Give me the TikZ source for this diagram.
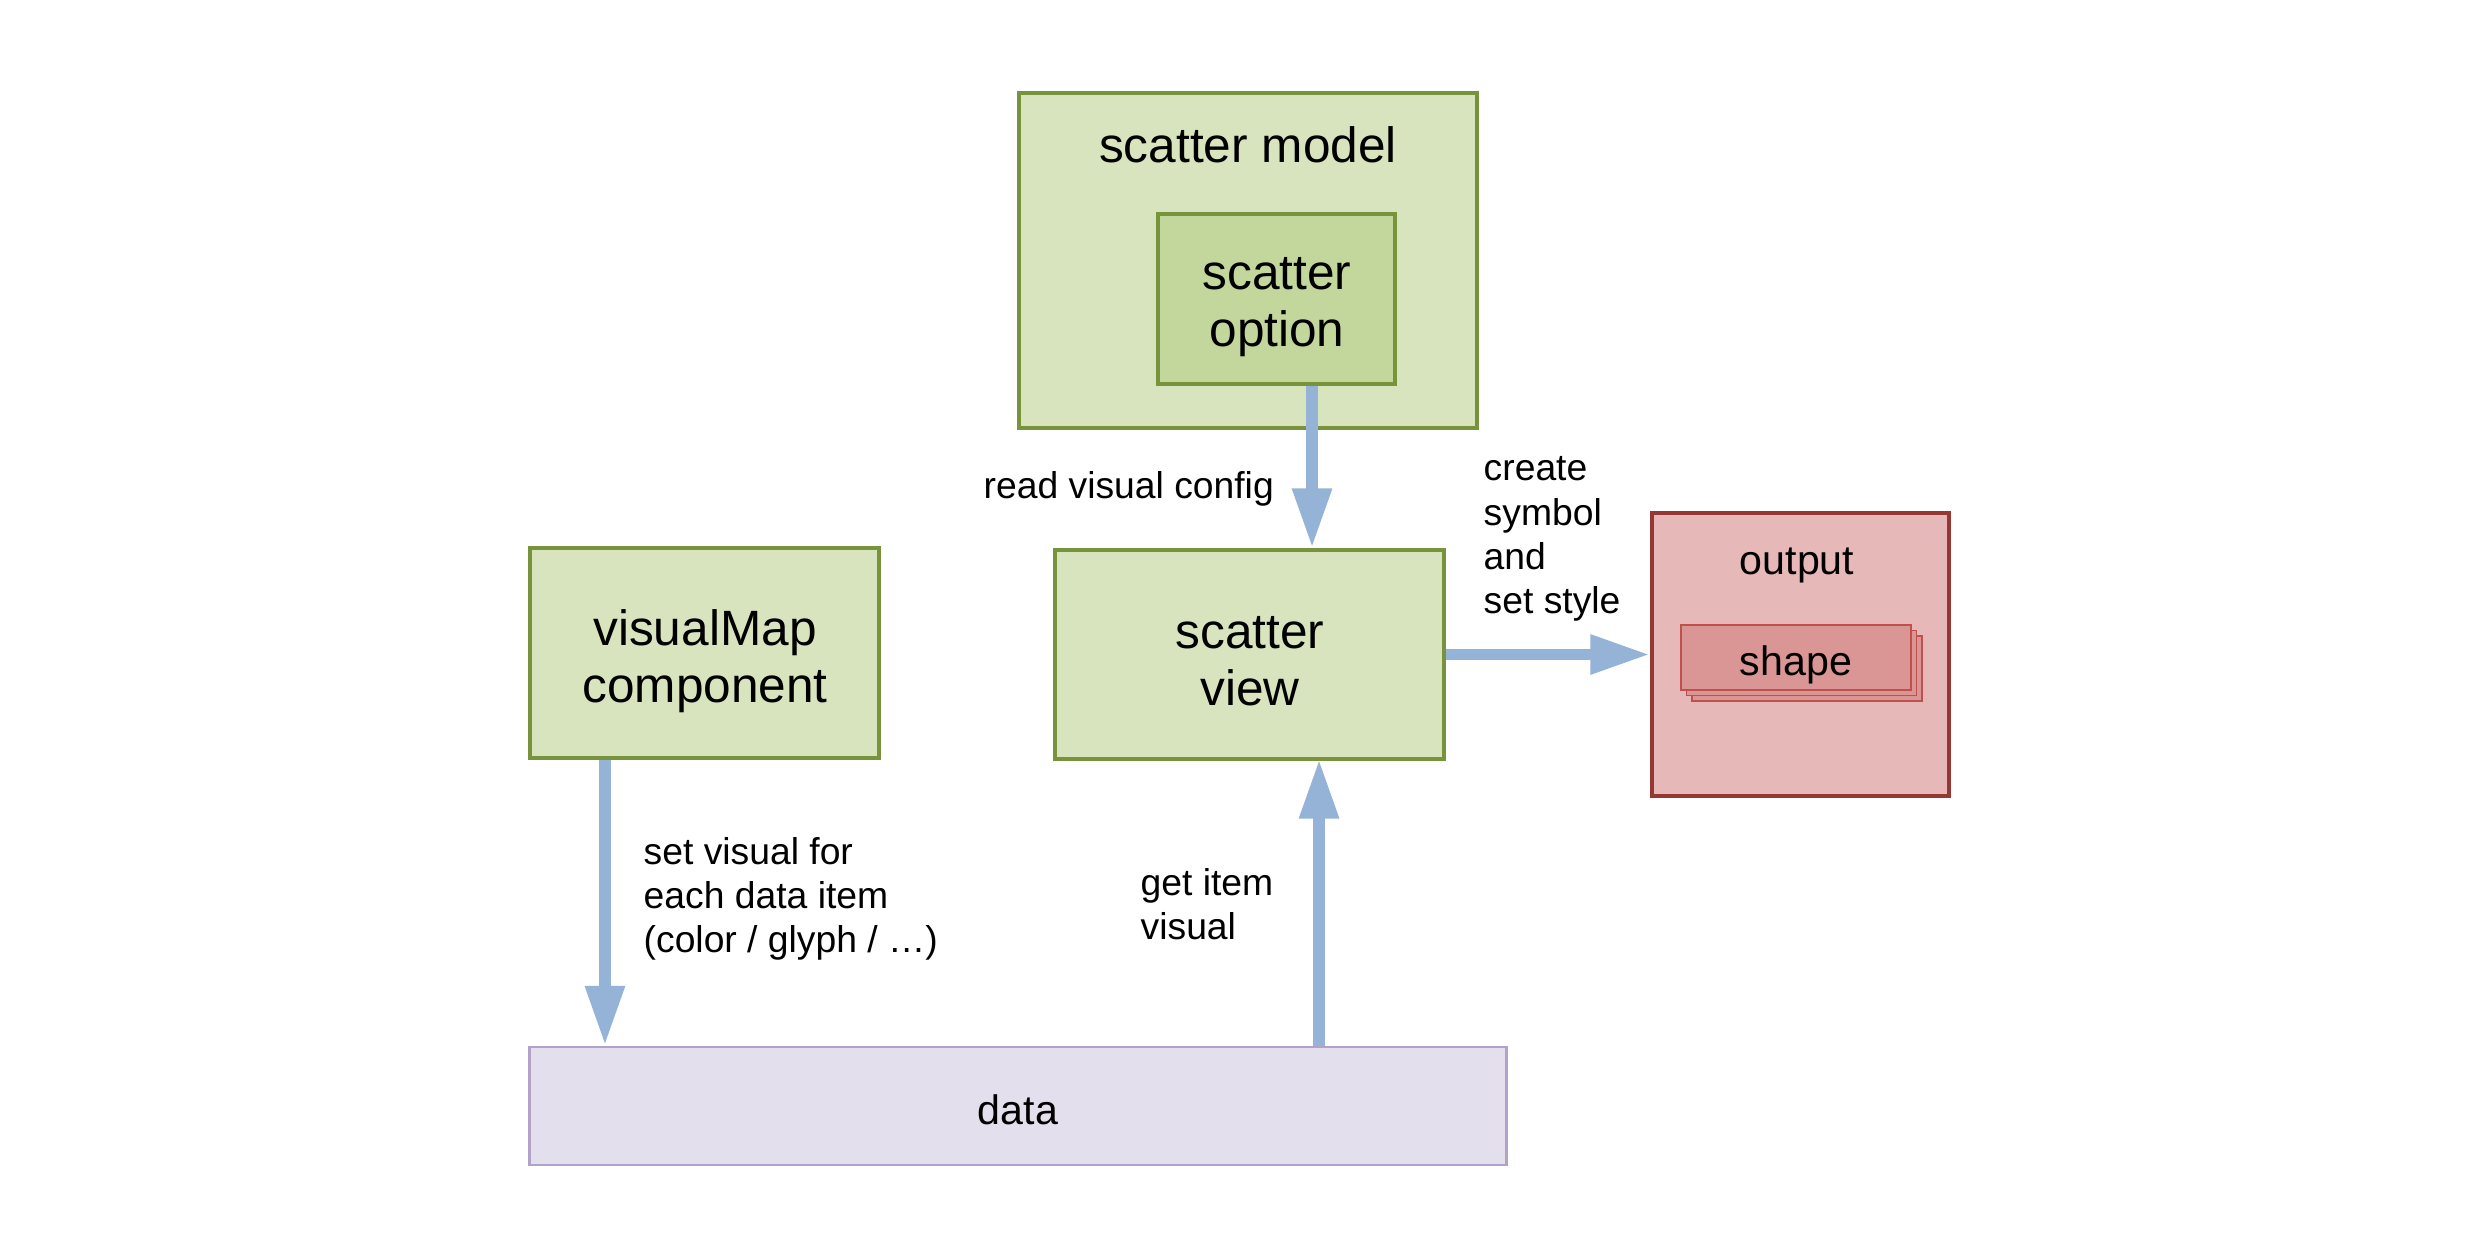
\documentclass[tikz,border=0pt]{standalone}
\usepackage{fontspec}
\setmainfont{Liberation Sans}
\usetikzlibrary{arrows.meta}
\definecolor{gfill}{HTML}{D7E4BD}
\definecolor{gdraw}{HTML}{77933C}
\definecolor{gfill2}{HTML}{C3D69B}
\definecolor{rfill}{HTML}{E6B9B8}
\definecolor{rdraw}{HTML}{953735}
\definecolor{sfill}{HTML}{D99694}
\definecolor{sdraw}{HTML}{C0504D}
\definecolor{pfill}{HTML}{E4DFEC}
\definecolor{pdraw}{HTML}{B3A2C7}
\definecolor{arrc}{HTML}{95B3D7}
\tikzset{
  box/.style={rectangle, inner sep=0pt, align=center},
  greenbox/.style={box, fill=gfill, draw=gdraw, line width=1pt},
  bigtxt/.style={font=\fontsize{14.1}{16.2}\selectfont, inner sep=0pt, align=center},
  midtxt/.style={font=\fontsize{11.7}{13.5}\selectfont, inner sep=0pt},
  smalltxt/.style={font=\fontsize{10.6}{12.6}\selectfont, align=left, inner sep=0pt},
  arr/.style={draw=arrc, line width=3.4pt, -{Triangle[width=10.5pt,length=17pt]}},
  shapebox/.style={box, fill=sfill, draw=sdraw, line width=0.5pt, minimum width=2.30cm, minimum height=0.65cm}
}
\begin{document}
\begin{tikzpicture}[x=0.01cm,y=-0.01cm]
\useasboundingbox[fill=white] (0,0) rectangle (2473,1251);
% scatter model
\node[greenbox, minimum width=4.58cm, minimum height=3.35cm] (model) at (1248,260.5) {};
\node[bigtxt] (modeltxt) at (1248,145) {scatter model};
\node[box, fill=gfill2, draw=gdraw, line width=1pt, minimum width=2.37cm, minimum height=1.70cm] (opt) at (1276.5,299) {};
\node[bigtxt] (opttxt) at (1277,307) {scatter\\option};
% scatter view
\node[greenbox, minimum width=3.89cm, minimum height=2.09cm] (view) at (1249.5,654.5) {};
\node[bigtxt] (viewtxt) at (1250,661) {scatter\\view};
% visualMap
\node[greenbox, minimum width=3.49cm, minimum height=2.10cm] (vm) at (704.5,653) {};
\node[bigtxt] (vmtxt) at (705,661) {visualMap\\component};
% data
\node[box, fill=pfill, draw=pdraw, line width=0.7pt, minimum width=9.76cm, minimum height=1.18cm] (data) at (1018,1106) {};
\node[midtxt] (datatxt) at (1018,1110) {data};
% output
\node[box, fill=rfill, draw=rdraw, line width=1pt, minimum width=2.97cm, minimum height=2.83cm] (out) at (1800.5,654.5) {};
\node[midtxt] (outtxt) at (1797,565) {output};
\node[shapebox] (shape3) at (1807,668.5) {};
\node[shapebox] (shape2) at (1801.5,663) {};
\node[shapebox] (shape1) at (1796,657.5) {};
\node[midtxt] (shapetxt) at (1796,665) {shape};
% arrows
\draw[arr] ([xshift=0.355cm]opt.south) -- ([xshift=0.355cm]opt.south |- view.north);
\draw[arr] (view.east) -- (out.west);
\draw[arr] ([xshift=-0.995cm]vm.south) -- ([xshift=-0.995cm]vm.south |- data.north);
\draw[arr] ([xshift=0.695cm]view.south |- data.north) -- ([xshift=0.695cm,yshift=0.02cm]view.south);
% labels
\node[smalltxt, anchor=west] (lread) at (983,489) {read visual config};
\node[smalltxt, anchor=west] (lcreate) at (1483,539) {create\\symbol\\and\\set style};
\node[smalltxt, anchor=west] (lset) at (643,899) {set visual for\\each data item\\(color / glyph / \dots)};
\node[smalltxt, anchor=west] (lget) at (1140,904) {get item\\visual};
\end{tikzpicture}
\end{document}
